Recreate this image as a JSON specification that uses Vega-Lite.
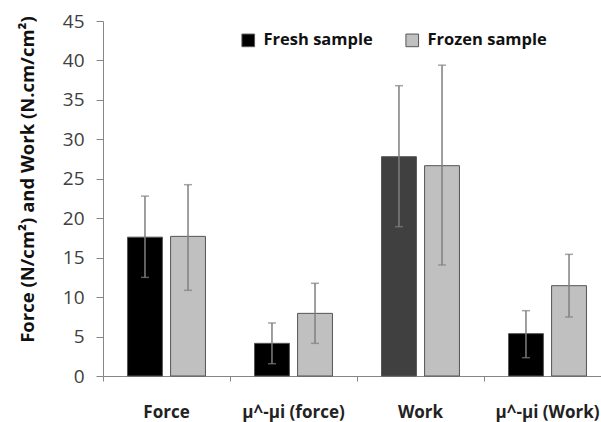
{
  "$schema": "https://vega.github.io/schema/vega-lite/v6.json",
  "autosize": "none",
  "padding": {"left": 103, "top": 21, "right": -10, "bottom": 46},
  "width": 508,
  "height": 355,
  "background": "white",
  "config": {
    "view": {"stroke": null},
    "font": "Open Sans",
    "axisY": {
      "grid": false, "domainColor": "#868686", "tickColor": "#868686", "tickSize": 7, "ticks": true,
      "labelFont": "Open Sans", "labelFontSize": 19, "labelColor": "#404040", "labelPadding": 12,
      "titleFont": "Open Sans", "titleFontSize": 18.5, "titleFontWeight": "bold", "titleColor": "#111"
    },
    "axisX": {
      "domainColor": "#868686", "tickColor": "#868686", "tickSize": 5, "ticks": true,
      "labelFont": "Open Sans", "labelFontSize": 17, "labelFontWeight": "bold", "labelColor": "#222",
      "labelPadding": 23, "labelAngle": 0
    }
  },
  "data": {"values": [
    {"cat": "Force", "sample": "Fresh sample", "value": 17.6, "lo": 12.5, "hi": 22.8},
    {"cat": "Force", "sample": "Frozen sample", "value": 17.7, "lo": 10.86, "hi": 24.25},
    {"cat": "μ^-μi (force)", "sample": "Fresh sample", "value": 4.14, "lo": 1.56, "hi": 6.72},
    {"cat": "μ^-μi (force)", "sample": "Frozen sample", "value": 7.94, "lo": 4.14, "hi": 11.75},
    {"cat": "Work", "sample": "Fresh sample", "value": 27.8, "lo": 18.93, "hi": 36.8},
    {"cat": "Work", "sample": "Frozen sample", "value": 26.66, "lo": 14.07, "hi": 39.4},
    {"cat": "μ^-μi (Work)", "sample": "Fresh sample", "value": 5.37, "lo": 2.32, "hi": 8.28},
    {"cat": "μ^-μi (Work)", "sample": "Frozen sample", "value": 11.45, "lo": 7.48, "hi": 15.42}
  ]},
  "encoding": {
    "x": {
      "field": "cat", "type": "nominal", "sort": null,
      "scale": {"paddingInner": 0, "paddingOuter": 0},
      "axis": {"title": null, "bandPosition": 0, "labelBound": false, "labelOverlap": false}
    },
    "xOffset": {"field": "sample", "type": "nominal", "scale": {"paddingInner": 0.19, "paddingOuter": 0.57}}
  },
  "layer": [
    {
      "mark": {"type": "bar", "stroke": "#555", "strokeWidth": 1},
      "encoding": {
        "y": {
          "field": "value", "type": "quantitative",
          "scale": {"domain": [0, 45], "nice": false},
          "axis": {
            "title": "Force (N/cm²) and Work (N.cm/cm²)", "values": [0,5,10,15,20,25,30,35,40,45],
            "titleX": -76, "titleY": 158, "titleBaseline": "middle", "titleAlign": "center"
          }
        },
        "fill": {
          "condition": {"test": "datum.cat === 'Work' && datum.sample === 'Fresh sample'", "value": "#404040"},
          "field": "sample", "type": "nominal",
          "scale": {"domain": ["Fresh sample", "Frozen sample"], "range": ["#000000", "#c0c0c0"]},
          "legend": {
            "title": null, "orient": "none", "legendX": 137, "legendY": 11, "direction": "horizontal",
            "symbolType": "square", "symbolSize": 160, "symbolStrokeColor": "#555", "symbolStrokeWidth": 1,
            "labelFont": "Open Sans", "labelFontSize": 16.5, "labelFontWeight": "bold", "labelColor": "#111",
            "columnPadding": 30, "labelOffset": 7
          }
        }
      }
    },
    {
      "mark": {"type": "rule", "color": "#7f7f7f", "strokeWidth": 1.5},
      "encoding": {
        "y": {"field": "lo", "type": "quantitative",
          "axis": {"title": "Force (N/cm²) and Work (N.cm/cm²)", "values": [0,5,10,15,20,25,30,35,40,45],
            "titleX": -76, "titleY": 158, "titleBaseline": "middle", "titleAlign": "center"}},
        "y2": {"field": "hi"}
      }
    },
    {
      "mark": {"type": "tick", "color": "#7f7f7f", "size": 8, "thickness": 1.5},
      "encoding": {"y": {"field": "lo", "type": "quantitative",
          "axis": {"title": "Force (N/cm²) and Work (N.cm/cm²)", "values": [0,5,10,15,20,25,30,35,40,45],
            "titleX": -76, "titleY": 158, "titleBaseline": "middle", "titleAlign": "center"}}}
    },
    {
      "mark": {"type": "tick", "color": "#7f7f7f", "size": 8, "thickness": 1.5},
      "encoding": {"y": {"field": "hi", "type": "quantitative",
          "axis": {"title": "Force (N/cm²) and Work (N.cm/cm²)", "values": [0,5,10,15,20,25,30,35,40,45],
            "titleX": -76, "titleY": 158, "titleBaseline": "middle", "titleAlign": "center"}}}
    }
  ]
}
